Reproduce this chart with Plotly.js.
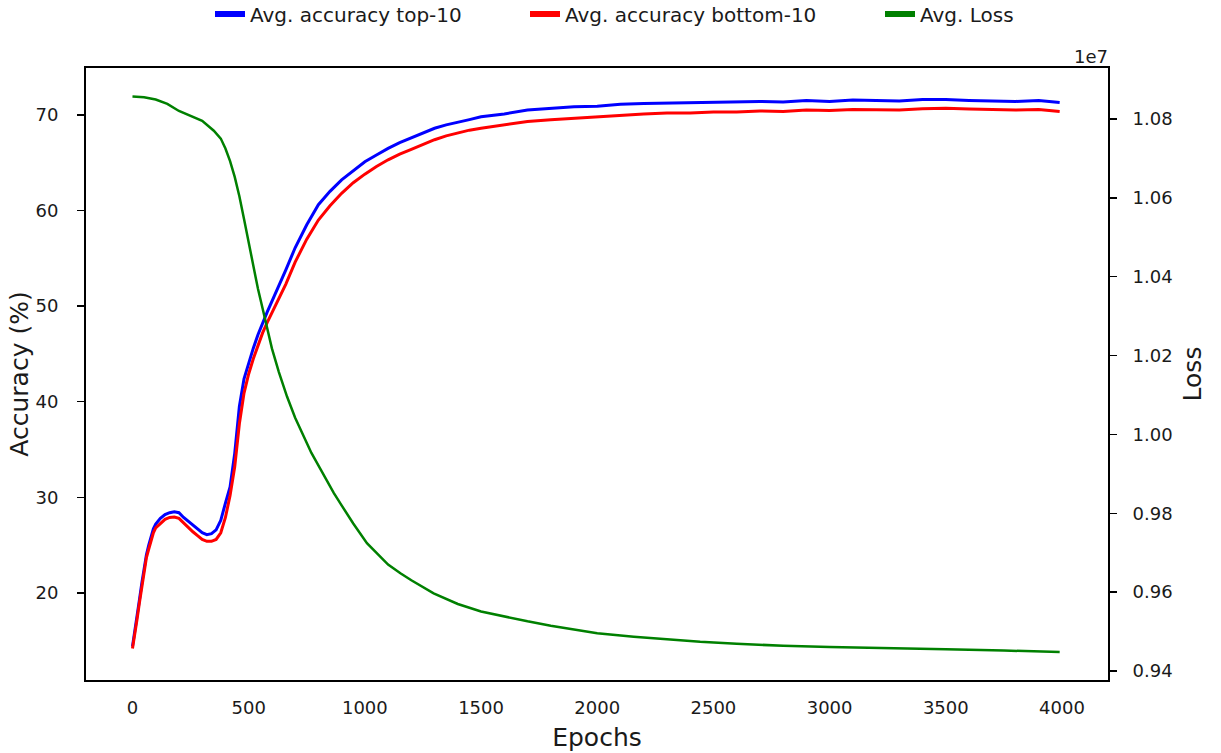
<!DOCTYPE html>
<html>
<head>
<meta charset="utf-8">
<script src="https://cdn.plot.ly/plotly-3.0.1.min.js"></script>
<style>html,body{margin:0;padding:0;background:#fff;}#chart{width:1221px;height:753px;}</style>
</head>
<body>
<div id="chart"></div>
<script>
// ---- data ----
const accEpochs = [0,10,20,30,40,50,60,70,80,90,100,120,140,160,180,200,220,240,260,280,300,320,340,360,380,400,420,440,460,480,500,520,540,560,580,600,630,660,700,750,800,850,900,950,1000,1050,1100,1150,1200,1250,1300,1350,1400,1450,1500,1600,1700,1800,1900,2000,2100,2200,2300,2400,2500,2600,2700,2800,2900,3000,3100,3200,3300,3400,3500,3600,3700,3800,3900,3990];
const accTop10 = [14.4,15.9,17.6,19.3,21.0,22.6,24.0,25.0,26.0,26.7,27.2,27.8,28.2,28.4,28.5,28.4,27.9,27.5,27.1,26.7,26.3,26.1,26.2,26.6,27.6,29.4,31.1,34.6,39.5,42.4,44.1,45.6,47.0,48.3,49.4,50.5,52.1,53.8,56.1,58.5,60.6,62.0,63.2,64.2,65.1,65.8,66.5,67.1,67.6,68.1,68.6,68.95,69.2,69.5,69.8,70.1,70.5,70.7,70.85,70.9,71.1,71.2,71.25,71.3,71.3,71.35,71.4,71.35,71.5,71.4,71.55,71.5,71.45,71.6,71.6,71.5,71.45,71.4,71.5,71.3];
const accBottom10 = [14.2,15.6,17.3,19.0,20.7,22.3,23.7,24.6,25.6,26.3,26.8,27.3,27.7,27.9,27.95,27.8,27.3,26.9,26.4,26.0,25.6,25.4,25.4,25.6,26.3,27.9,30.2,33.2,37.7,40.9,42.9,44.5,45.9,47.2,48.3,49.3,50.9,52.3,54.6,57.0,59.0,60.5,61.8,62.9,63.8,64.6,65.3,65.9,66.4,66.9,67.4,67.8,68.1,68.4,68.6,68.95,69.3,69.5,69.65,69.8,70.0,70.1,70.2,70.2,70.3,70.3,70.4,70.35,70.5,70.45,70.55,70.5,70.5,70.65,70.7,70.6,70.55,70.5,70.55,70.35];
const lossEpochs = [0,50,100,150,200,250,300,350,380,400,420,440,460,480,500,520,540,560,580,600,630,665,700,737,770,809,866,900,950,1009,1100,1153,1200,1296,1400,1500,1600,1700,1800,1900,2000,2157,2300,2443,2600,2800,3000,3200,3500,3750,3990];
const avgLoss = [10857000,10855000,10849000,10838000,10820000,10807000,10795000,10770000,10750000,10725000,10693000,10653000,10604000,10546000,10487000,10427000,10369000,10319000,10269000,10218000,10158000,10096000,10042000,9994000,9953000,9912000,9851500,9820000,9774000,9724000,9670000,9648000,9630000,9597000,9570000,9551000,9538000,9526000,9515000,9505000,9496000,9487000,9480000,9474000,9469000,9464000,9461000,9458000,9455000,9452000,9448000];
const xTicks = [0,500,1000,1500,2000,2500,3000,3500,4000];
const yTicks = [20,30,40,50,60,70];
const y2Ticks = [9400000,9600000,9800000,10000000,10200000,10400000,10600000,10800000];
const y2TickText = ["0.94","0.96","0.98","1.00","1.02","1.04","1.06","1.08"];
const seriesNames = ["Avg. accuracy top-10","Avg. accuracy bottom-10","Avg. Loss"];
const seriesColors = ["#0000ff","#ff0000","#008000"];

const FONT = "DejaVu Sans, Verdana, sans-serif";
const TXT = "#1a1a1a";

const traces = [
  {x: accEpochs, y: accTop10, type: "scatter", mode: "lines", name: seriesNames[0],
   line: {color: seriesColors[0], width: 3}, showlegend: false, yaxis: "y"},
  {x: accEpochs, y: accBottom10, type: "scatter", mode: "lines", name: seriesNames[1],
   line: {color: seriesColors[1], width: 3}, showlegend: false, yaxis: "y"},
  {x: lossEpochs, y: avgLoss, type: "scatter", mode: "lines", name: seriesNames[2],
   line: {color: seriesColors[2], width: 2.5}, showlegend: false, yaxis: "y2"}
];
// legend entries with thicker sample lines (as in the reference)
const legendWidths = [270, 310, 100];
seriesNames.forEach((n, i) => {
  traces.push({x: [null], y: [null], type: "scatter", mode: "lines", name: n,
    legendwidth: legendWidths[i],
    line: {color: seriesColors[i], width: 6}, yaxis: i === 2 ? "y2" : "y", hoverinfo: "skip"});
});

const axisCommon = {
  showgrid: false, zeroline: false, showline: true, linecolor: "#000", linewidth: 2,
  tickfont: {family: FONT, size: 18, color: TXT}, ticklen: 7, tickwidth: 1.5, tickcolor: "#000"
};

const layout = {
  width: 1221, height: 753,
  paper_bgcolor: "#fff", plot_bgcolor: "#fff",
  margin: {l: 86, r: 113, t: 68, b: 73, pad: 0},
  font: {family: FONT, color: TXT},
  showlegend: true,
  legend: {orientation: "h", xref: "container", yref: "container",
    x: 210 / 1221, xanchor: "left", y: 1 - 14 / 753, yanchor: "middle",
    font: {family: FONT, size: 20, color: TXT}, bgcolor: "rgba(0,0,0,0)", borderwidth: 0},
  xaxis: Object.assign({}, axisCommon, {
    range: [-200, 4198], tickvals: xTicks, ticks: "", mirror: true, ticklabelstandoff: 10,
    title: {text: "Epochs", font: {family: FONT, size: 25, color: TXT}, standoff: 12}
  }),
  yaxis: Object.assign({}, axisCommon, {
    range: [10.9, 74.9], tickvals: yTicks, ticks: "outside", mirror: true, ticklabelstandoff: 15,
    title: {text: "Accuracy (%)", font: {family: FONT, size: 25, color: TXT}, standoff: 0}
  }),
  yaxis2: Object.assign({}, axisCommon, {
    range: [9377200, 10929000], tickvals: y2Ticks, ticktext: y2TickText, ticks: "outside",
    overlaying: "y", side: "right", ticklabelstandoff: 12,
    title: {text: "Loss", font: {family: FONT, size: 25, color: TXT}, standoff: 12}
  }),
  annotations: [{text: "1e7", xref: "paper", yref: "paper", x: 1.002, y: 0.998,
    xanchor: "right", yanchor: "bottom", showarrow: false,
    font: {family: FONT, size: 18, color: TXT}}]
};

Plotly.newPlot("chart", traces, layout, {displayModeBar: false, staticPlot: true});
</script>
</body>
</html>
